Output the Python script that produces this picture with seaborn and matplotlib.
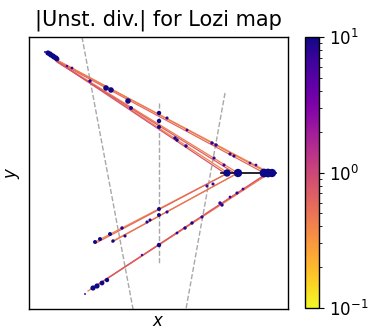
import numpy as np
import pandas as pd
import matplotlib
matplotlib.use("Agg")
import matplotlib.pyplot as plt
from matplotlib.colors import LogNorm
import matplotlib.cm as cm
import seaborn as sns

# ---- data (screen-like coordinates, y grows downward) ----
# unstable-manifold segments: start, end, |unstable divergence|
seg_x0 = [58, 57, 58, 56, 57, 58, 55, 95, 96, 113, 112, 88, 91, 93]
seg_y0 = [61, 60, 62, 61, 62, 62, 60, 242, 243, 241, 242, 291, 289, 288]
seg_x1 = [270, 268, 266, 238, 236, 228, 226, 228, 226, 238, 236, 270, 268, 266]
seg_y1 = [173, 173, 174, 173, 174, 173, 174, 173, 174, 173, 174, 173, 173, 174]
seg_val = [0.38, 0.45, 0.6, 0.42, 0.7, 0.38, 0.8, 0.4, 0.6, 0.38, 0.5, 0.4, 0.55, 0.75]

# sample points on the manifold
dot_x = [45, 48, 50, 51, 53, 54, 56, 57, 67, 72, 90, 106, 111, 128, 131,
         159, 159, 159, 167, 175, 177, 186, 187, 212, 216, 214, 224, 230, 234, 250, 256,
         227, 238, 264, 268, 272,
         95, 100, 110, 122, 113, 125, 147, 150, 159, 159, 167, 159, 142, 177, 185, 192, 202,
         207, 213, 220, 222, 230, 237, 243,
         85, 93, 97, 102, 107]
dot_y = [52, 53, 54, 55, 56, 57, 58, 59, 66, 68, 81, 88, 90, 101, 108,
         113, 121, 127, 118, 138, 140, 146, 130, 143, 145, 158, 165, 154, 156, 163, 165,
         173, 173, 173, 173, 173,
         242, 239, 234, 228, 241, 236, 222, 220, 215, 209, 212, 245, 255, 233, 228, 223, 217,
         186, 184, 203, 205, 197, 193, 189,
         294, 288, 286, 283, 280]
dot_val = [8, 12, 12, 12, 12, 12, 12, 12, 6, 7, 8, 12, 12, 12, 9,
           12, 12, 12, 8, 9, 9, 9, 7, 8, 8, 7, 7, 8, 8, 7, 7,
           12, 12, 12, 12, 12,
           12, 12, 10, 9, 10, 9, 9, 9, 12, 12, 8, 12, 6, 8, 9, 9, 8,
           7, 7, 8, 8, 7, 8, 7,
           5, 12, 12, 12, 12]
dot_size = [2, 14, 14, 14, 14, 14, 14, 12, 3, 4, 6, 16, 16, 16, 8,
            10, 10, 8, 5, 6, 6, 6, 4, 6, 6, 5, 5, 5, 5, 4, 4,
            28, 36, 40, 40, 36,
            8, 8, 8, 6, 6, 5, 5, 5, 8, 8, 5, 10, 3, 4, 6, 6, 5,
            5, 5, 6, 6, 4, 5, 4,
            2, 14, 14, 12, 10]

# stable-manifold pieces (dashed)
dash_x0 = [82, 159, 225]
dash_y0 = [37, 103, 93]
dash_x1 = [133, 159, 186]
dash_y1 = [309, 265, 309]

# fixed-point segment (black)
fix_x = [221, 276]
fix_y = [173, 173]

cbar_ticks = [0.1, 1, 10]

# ---- figure ----
plt.rcParams.update(plt.rcParamsDefault)
plt.rcParams['font.family'] = ['DejaVu Sans']
fig = plt.figure(figsize=(3.72, 3.31), dpi=100)
ax = fig.add_axes([29 / 372, 1 - 309 / 331, 259 / 372, 272 / 331])
cax = fig.add_axes([305 / 372, 1 - 308 / 331, 14 / 372, 271 / 331])

norm = LogNorm(vmin=0.1, vmax=10, clip=True)
cmap = plt.get_cmap("plasma_r")

# dashed stable pieces
for i in range(len(dash_x0)):
    ax.plot([dash_x0[i], dash_x1[i]], [dash_y0[i], dash_y1[i]], ls="--",
            color="#a8a8a8", lw=1.0, zorder=1)

# unstable segments via seaborn
rows = []
for i in range(len(seg_x0)):
    rows.append({"seg": i, "x": seg_x0[i], "y": seg_y0[i], "val": seg_val[i]})
    rows.append({"seg": i, "x": seg_x1[i], "y": seg_y1[i], "val": seg_val[i]})
df_seg = pd.DataFrame(rows)
sns.lineplot(data=df_seg, x="x", y="y", hue="val", units="seg", estimator=None,
             sort=False, palette="plasma_r", hue_norm=norm, legend=False, lw=0.9,
             ax=ax, zorder=2)

ax.plot(fix_x, fix_y, color="black", lw=1.2, zorder=3)

df_dot = pd.DataFrame({"x": dot_x, "y": dot_y, "val": dot_val, "s": dot_size})
sns.scatterplot(data=df_dot, x="x", y="y", hue="val", hue_norm=norm,
                palette="plasma_r", size="s", sizes=(min(dot_size), max(dot_size)),
                size_norm=(min(dot_size), max(dot_size)),
                edgecolor="none", legend=False, ax=ax, zorder=4)

ax.set_xlim(29, 288)
ax.set_ylim(309, 37)
ax.set_xticks([])
ax.set_yticks([])
for sp in ax.spines.values():
    sp.set_visible(True)
    sp.set_color("black")
    sp.set_linewidth(1.0)
ax.set_xlabel("$x$", fontsize=12, labelpad=2, color="black")
ax.set_ylabel("$y$", fontsize=12, labelpad=5, color="black")
ax.set_title("|Unst. div.| for Lozi map", fontsize=15, pad=8, color="black")

sm = cm.ScalarMappable(norm=norm, cmap=cmap)
sm.set_array([])
cb = fig.colorbar(sm, cax=cax)
cb.set_ticks(cbar_ticks)
cb.ax.tick_params(labelsize=12, colors="black")
cb.outline.set_linewidth(1.0)

fig.savefig("out.png", dpi=100)
